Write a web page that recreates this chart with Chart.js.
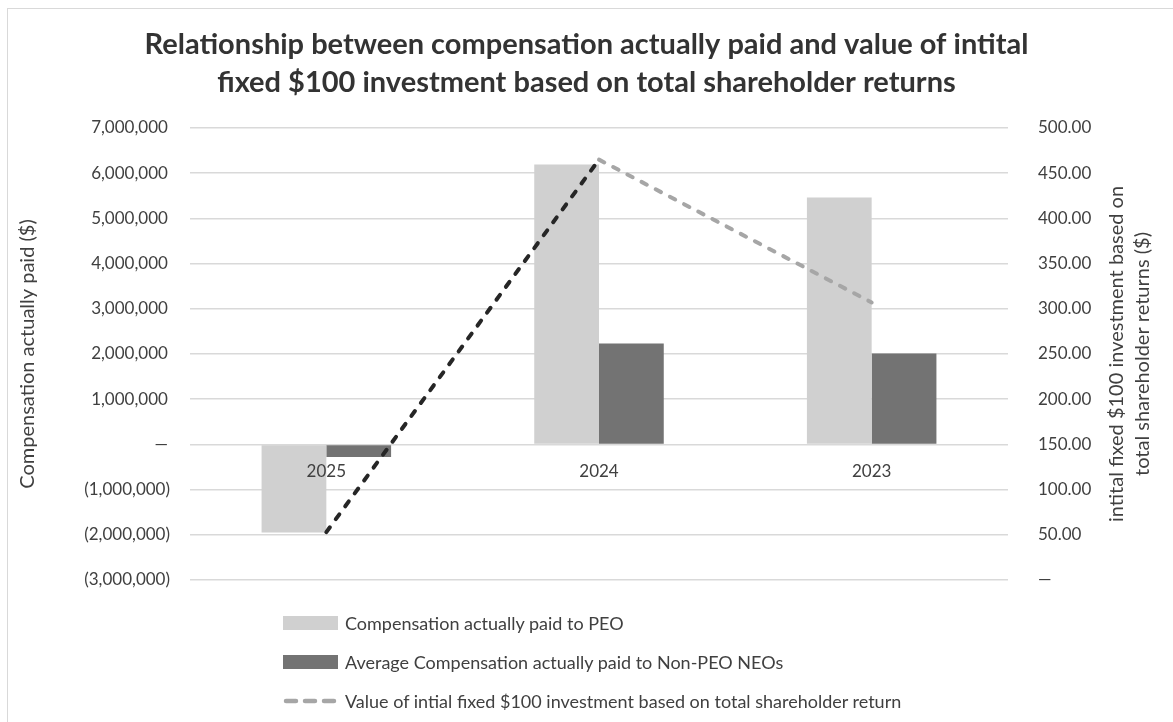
<!DOCTYPE html>
<html>
<head>
<meta charset="utf-8">
<script src="https://cdn.jsdelivr.net/npm/chart.js@4/dist/chart.umd.min.js"></script>
<style>
    body { margin: 0; background: #fff; font-family: Lato, "Open Sans", sans-serif; }
    #wrap { position: relative; width: 1173px; height: 722px; overflow: hidden; }
    #frame { position: absolute; left: 7px; top: 8px; width: 1200px; height: 740px; border: 1px solid #d9d9d9; }
    #legend { position: absolute; left: 283px; top: 603px; color: #404040; font-size: 18px; }
    .leg-row { display: flex; align-items: center; height: 39px; }
    .leg-box { width: 55px; height: 14px; margin-right: 7px; }
    .leg-row svg { margin-right: 7px; }
</style>
</head>
<body>
<div id="wrap">
    <div id="frame"></div>
    <canvas id="chart"></canvas>
    <div id="legend"></div>
</div>
<script>
// --- Data ---
const years = ['2025', '2024', '2023'];
const peoPaid = [-1950000, 6190000, 5460000];
const nonPeoPaid = [-280000, 2230000, 2010000];
const tsrValue = [53, 465, 307];

const seriesNames = [
    'Compensation actually paid to PEO',
    'Average Compensation actually paid to Non-PEO NEOs',
    'Value of intial fixed $100 investment based on total shareholder return'
];
const leftTicks = { min: -3000000, max: 7000000, step: 1000000 };
const rightTicks = { min: 0, max: 500, step: 50 };

const TEXT = '#404040';
const GRID = '#d9d9d9';
const FONT = 'Lato, "Open Sans", sans-serif';

// right axis title reads bottom-to-top, so draw it ourselves
const rightTitle = {
    id: 'rightTitle',
    afterDraw(chart) {
        const ctx = chart.ctx;
        const area = chart.chartArea;
        const cy = (area.top + area.bottom) / 2;
        ctx.save();
        ctx.fillStyle = TEXT;
        ctx.font = '20px ' + FONT;
        ctx.textAlign = 'center';
        ctx.textBaseline = 'middle';
        [['intital fixed $100 investment based on', 1117], ['total shareholder returns ($)', 1143]].forEach(([t, x]) => {
            ctx.save();
            ctx.translate(x, cy);
            ctx.rotate(-Math.PI / 2);
            ctx.fillText(t, 0, 0);
            ctx.restore();
        });
        ctx.restore();
    }
};

// accounting style: negatives in brackets, positives leave room for the bracket
function fmtLeft(v) {
    if (v === 0) return '—\u2009';
    const s = Math.abs(v).toLocaleString('en-US');
    return v < 0 ? '(' + s + ')' : s + '\u2009';
}

const chart = new Chart(document.getElementById('chart'), {
    type: 'bar',
    data: {
        labels: years,
        datasets: [
            {
                type: 'line',
                label: seriesNames[2],
                data: tsrValue,
                yAxisID: 'y1',
                order: 0,
                borderColor: '#a6a6a6',
                borderWidth: 4,
                borderDash: [6, 10],
                borderCapStyle: 'round',
                pointRadius: 0,
                tension: 0,
                segment: {
                    borderColor: c => c.p0DataIndex === 0 ? '#262626' : '#a6a6a6'
                }
            },
            {
                label: seriesNames[0],
                data: peoPaid,
                backgroundColor: '#d0d0d0',
                yAxisID: 'y',
                order: 1,
                categoryPercentage: 0.475,
                barPercentage: 1.0
            },
            {
                label: seriesNames[1],
                data: nonPeoPaid,
                backgroundColor: '#737373',
                yAxisID: 'y',
                order: 1,
                categoryPercentage: 0.475,
                barPercentage: 1.0
            }
        ]
    },
    options: {
        responsive: true,
        maintainAspectRatio: false,
        animation: false,
        layout: { padding: { top: 8, left: 0, right: 0, bottom: 142 } },
        plugins: {
            legend: { display: false },
            tooltip: { enabled: false },
            title: {
                display: true,
                text: ['Relationship between compensation actually paid and value of intital',
                       'fixed $100 investment based on total shareholder returns'],
                color: '#333333',
                font: { family: FONT, size: 29, weight: 'bold', lineHeight: 1.31 },
                padding: { top: 18, bottom: 26 }
            }
        },
        scales: {
            x: {
                position: { y: 0 },
                grid: { display: false },
                border: { display: false },
                // labels sit on top of the bars, like the original
                ticks: { z: 1, color: TEXT, font: { family: FONT, size: 17 }, padding: 9 }
            },
            y: {
                position: 'left',
                min: leftTicks.min,
                max: leftTicks.max,
                afterFit: s => { s.width = 190; },
                grid: { color: GRID, lineWidth: 1.5, drawTicks: false },
                border: { display: false },
                ticks: {
                    stepSize: leftTicks.step,
                    color: TEXT,
                    font: { family: FONT, size: 17 },
                    padding: 20,
                    callback: v => fmtLeft(v)
                },
                title: {
                    display: true,
                    text: 'Compensation actually paid ($)',
                    color: TEXT,
                    font: { family: FONT, size: 20 },
                    padding: { top: 16, bottom: 0 }
                }
            },
            y1: {
                position: 'right',
                min: rightTicks.min,
                max: rightTicks.max,
                afterFit: s => { s.width = 165; },
                grid: { display: false },
                border: { display: false },
                ticks: {
                    stepSize: rightTicks.step,
                    color: TEXT,
                    font: { family: FONT, size: 17 },
                    padding: 22,
                    callback: v => v === 0 ? '—' : v.toFixed(2)
                }
            }
        }
    },
    plugins: [rightTitle]
});

// legend below the plot, one row per series
const legend = document.getElementById('legend');
legend.innerHTML = [1, 2, 0].map(i => {
    const ds = chart.data.datasets[i];
    const mark = ds.type === 'line'
        ? `<svg width="55" height="14"><line x1="3" y1="7" x2="52" y2="7" stroke="${ds.borderColor}" stroke-width="4.5" stroke-linecap="round" stroke-dasharray="10 9"/></svg>`
        : `<span class="leg-box" style="background:${ds.backgroundColor}"></span>`;
    return `<div class="leg-row">${mark}<span>${ds.label}</span></div>`;
}).join('');
</script>
</body>
</html>
